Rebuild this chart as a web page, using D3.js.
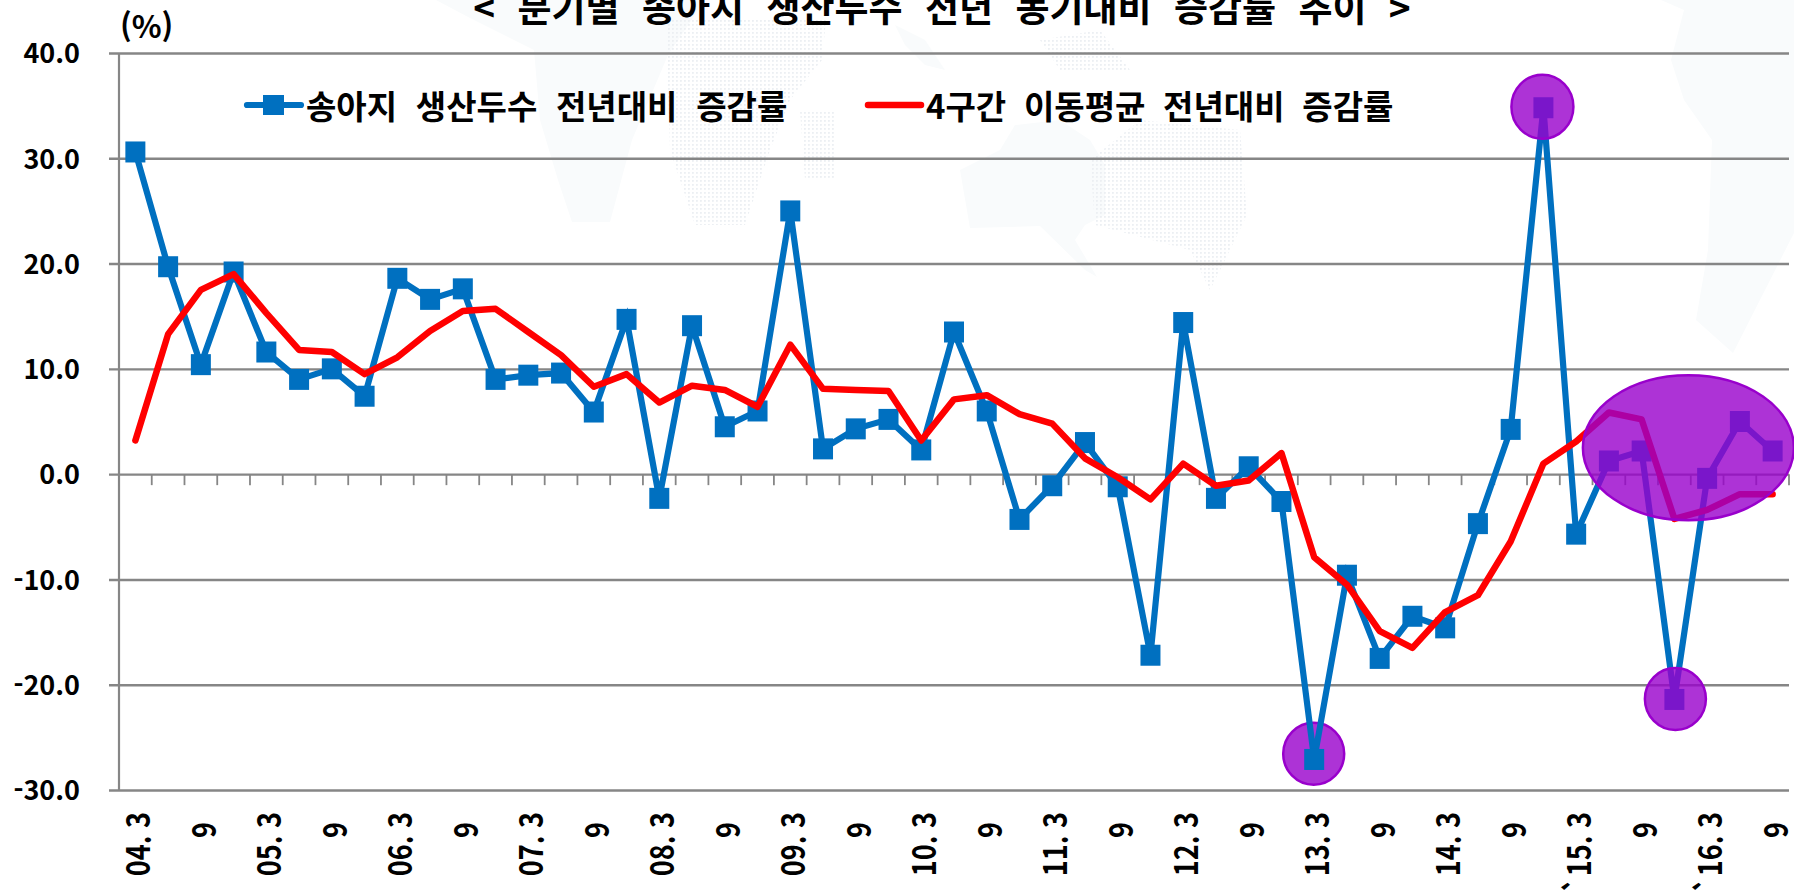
<!DOCTYPE html>
<html lang="ko">
<head>
<meta charset="utf-8">
<title>분기별 송아지 생산두수 전년 동기대비 증감률 추이</title>
<script src="https://cdn.jsdelivr.net/npm/d3@7/dist/d3.min.js"></script>
<style>
html,body{margin:0;padding:0;background:#fff;overflow:hidden}
svg{display:block}
text{font-family:"Noto Sans CJK KR","Noto Sans",sans-serif;font-weight:700;fill:#000}
</style>
</head>
<body>
<svg id="chart" width="1794" height="890"></svg>
<script>
const titleText = "< 분기별 송아지 생산두수 전년 동기대비 증감률 추이 >";
const unitText = "(%)";
const seriesNames = ["송아지 생산두수 전년대비 증감률", "4구간 이동평균 전년대비 증감률"];
const categories = [
  "04. 3","04. 6","04. 9","04. 12","05. 3","05. 6","05. 9","05. 12",
  "06. 3","06. 6","06. 9","06. 12","07. 3","07. 6","07. 9","07. 12",
  "08. 3","08. 6","08. 9","08. 12","09. 3","09. 6","09. 9","09. 12",
  "10. 3","10. 6","10. 9","10. 12","11. 3","11. 6","11. 9","11. 12",
  "12. 3","12. 6","12. 9","12. 12","13. 3","13. 6","13. 9","13. 12",
  "14. 3","14. 6","14. 9","14. 12","`15. 3","15. 6","15. 9","15. 12",
  "`16. 3","16. 6","16. 9"
];
const calfGrowth = [
  30.6,19.7,10.4,19.2,11.6,9.0,10.0,7.4,
  18.6,16.6,17.6,9.0,9.4,9.6,5.9,14.7,
  -2.3,14.1,4.5,6.0,25.0,2.4,4.3,5.2,
  2.3,13.5,6.0,-4.3,-1.1,3.0,-1.2,-17.2,
  14.4,-2.3,0.7,-2.6,-27.1,-9.6,-17.5,-13.5,
  -14.6,-4.7,4.25,34.8,-5.7,1.25,2.2,-21.4,
  -0.4,5.0,2.2
];
const movingAvgGrowth = [
  3.2,13.3,17.5,19.0,15.3,11.8,11.6,9.5,
  11.1,13.6,15.5,15.7,13.5,11.3,8.3,9.5,
  6.8,8.4,8.0,6.4,12.3,8.1,8.0,7.9,
  3.2,7.1,7.5,5.7,4.8,1.5,-0.3,-2.4,
  1.0,-1.1,-0.6,2.0,-7.9,-10.5,-14.9,-16.5,
  -13.1,-11.5,-6.4,1.0,3.1,5.85,5.2,-4.25,
  -3.4,-1.9,-1.9
];
const yTicks = [40,30,20,10,0,-10,-20,-30];

const svg = d3.select("#chart");
const BLUE = "#0070C0", RED = "#FF0000", GRID = "#868686", PURPLE = "#9900CC";

const x = d3.scaleBand().domain(categories).range([119, 1789]);
const cx = c => x(c) + x.bandwidth() / 2;
const y = d3.scaleLinear().domain([-30, 40]).range([790, 53]);

/* pale world-map backdrop */
const defs = svg.append("defs");
defs.append("pattern").attr("id","dots").attr("width",4).attr("height",4)
  .attr("patternUnits","userSpaceOnUse")
  .append("rect").attr("width",1.8).attr("height",1.8).attr("fill","#eceff3");
const land = [
  [[436,0],[470,18],[534,50],[540,120],[558,180],[572,222],[610,222],[632,140],[668,55],[705,0]],
  [[960,170],[1000,150],[1015,125],[1060,120],[1090,140],[1105,165],[1105,215],[1085,225],[1075,240],[1097,277],[1085,270],[1040,226],[970,228]],
  [[895,25],[925,40],[945,70],[925,65],[905,45]],
  [[1661,0],[1684,10],[1671,60],[1684,100],[1712,140],[1708,250],[1696,320],[1733,353],[1794,233],[1794,0]]
];
const dotted = [
  [[666,20],[826,20],[822,60],[790,100],[770,150],[745,225],[695,225],[670,150]],
  [[800,110],[835,110],[835,180],[805,180]],
  [[1090,160],[1140,120],[1240,130],[1247,215],[1225,260],[1210,290],[1190,250],[1095,225]],
  [[1040,40],[1100,30],[1130,70],[1060,70]]
];
const pathOf = d3.line();
const bg = svg.append("g");
bg.selectAll("path.land").data(land).join("path").attr("class","land")
  .attr("d", d => pathOf(d) + "Z").attr("fill","#f9fbfc");
bg.selectAll("path.dots").data(dotted).join("path").attr("class","dots")
  .attr("d", d => pathOf(d) + "Z").attr("fill","url(#dots)");

/* title and unit */
svg.append("text").attr("x",942).attr("y",22).attr("text-anchor","middle")
  .attr("font-size",37).attr("word-spacing",12).text(titleText);
svg.append("text").attr("x",120).attr("y",38).attr("font-size",31).text(unitText);

/* y axis + gridlines */
const yAxis = d3.axisLeft(y).tickValues(yTicks)
  .tickFormat(d => d3.format(".1f")(d).replace("\u2212","-"))
  .tickSize(10).tickPadding(0);
const gy = svg.append("g").attr("transform","translate(119,0)").call(yAxis);
gy.select(".domain").attr("d", `M0,${y(40)}V${y(-30)}`).attr("stroke",GRID).attr("stroke-width",2.2);
gy.selectAll(".tick line").attr("x1",-10).attr("x2",1670).attr("stroke",GRID).attr("stroke-width",2.4);
gy.selectAll(".tick text").attr("x",-39).attr("dy","0.36em")
  .attr("font-size",27).attr("text-anchor","end").style("font-family",'"Noto Sans CJK KR"');

/* category ticks along zero line */
const edges = categories.map(c => x(c)).concat([x(categories[50]) + x.bandwidth()]);
svg.append("g").selectAll("line").data(edges).join("line")
  .attr("x1",d=>d).attr("x2",d=>d).attr("y1",y(0)).attr("y2",y(0)+11)
  .attr("stroke",GRID).attr("stroke-width",1.8);

/* category labels */
const shown = categories.filter((c,i) => i % 2 === 0);
svg.append("g").selectAll("text").data(shown).join("text")
  .attr("transform", c => {
    const short = !/3$/.test(c);
    return `translate(${cx(c)+15},${short ? 822 : 812}) rotate(-90) scale(1,1.2)`;
  })
  .attr("text-anchor","end").attr("font-size",27)
  .text(c => /3$/.test(c) ? c : "9");

/* highlight ellipses */
const spots = [
  {at:"13. 3",  dx:-0.5, dv:0.55, rx:30.5, ry:31, under:true},
  {at:"14. 12", dx:-1, dv:0.1, rx:31, ry:32},
  {at:"15. 12", dx:1, dv:0.05, rx:30.5, ry:31},
  {at:"16. 6",  dx:-51.5, dv:-2.5, rx:105.5, ry:72.5}
];
const drawSpots = sel => sel
  .attr("cx",d=>cx(d.at)+d.dx).attr("cy",d=>y(calfGrowth[categories.indexOf(d.at)]+d.dv))
  .attr("rx",d=>d.rx).attr("ry",d=>d.ry)
  .attr("fill","rgba(153,0,204,0.8)").attr("stroke",PURPLE).attr("stroke-width",2.5);
svg.append("g").selectAll("ellipse").data(spots.filter(d=>d.under)).join("ellipse").call(drawSpots);

/* series */
const lineOf = vals => d3.line().x((d,i)=>cx(categories[i])).y(d=>y(d))(vals);
svg.append("path").attr("d",lineOf(calfGrowth)).attr("fill","none")
  .attr("stroke",BLUE).attr("stroke-width",6.2).attr("stroke-linejoin","miter");
svg.append("g").selectAll("rect").data(calfGrowth).join("rect")
  .attr("x",(d,i)=>cx(categories[i])-10).attr("y",d=>y(d)-10.5)
  .attr("width",20).attr("height",21).attr("fill",BLUE);
svg.append("path").attr("d",lineOf(movingAvgGrowth)).attr("fill","none")
  .attr("stroke",RED).attr("stroke-width",6.5).attr("stroke-linecap","round").attr("stroke-linejoin","round");

/* legend */
const legY = 105;
svg.append("line").attr("x1",247).attr("x2",301).attr("y1",legY).attr("y2",legY)
  .attr("stroke",BLUE).attr("stroke-width",6.2).attr("stroke-linecap","round");
svg.append("rect").attr("x",263).attr("y",legY-10).attr("width",21).attr("height",20).attr("fill",BLUE);
svg.append("text").attr("x",306).attr("y",legY+14).attr("font-size",33).attr("word-spacing",9.5).text(seriesNames[0]);
svg.append("line").attr("x1",868).attr("x2",921).attr("y1",legY).attr("y2",legY)
  .attr("stroke",RED).attr("stroke-width",6.5).attr("stroke-linecap","round");
svg.append("text").attr("x",926).attr("y",legY+14).attr("font-size",33).attr("word-spacing",8.5).text(seriesNames[1]);

svg.append("g").selectAll("ellipse").data(spots.filter(d=>!d.under)).join("ellipse").call(drawSpots);
</script>
</body>
</html>
